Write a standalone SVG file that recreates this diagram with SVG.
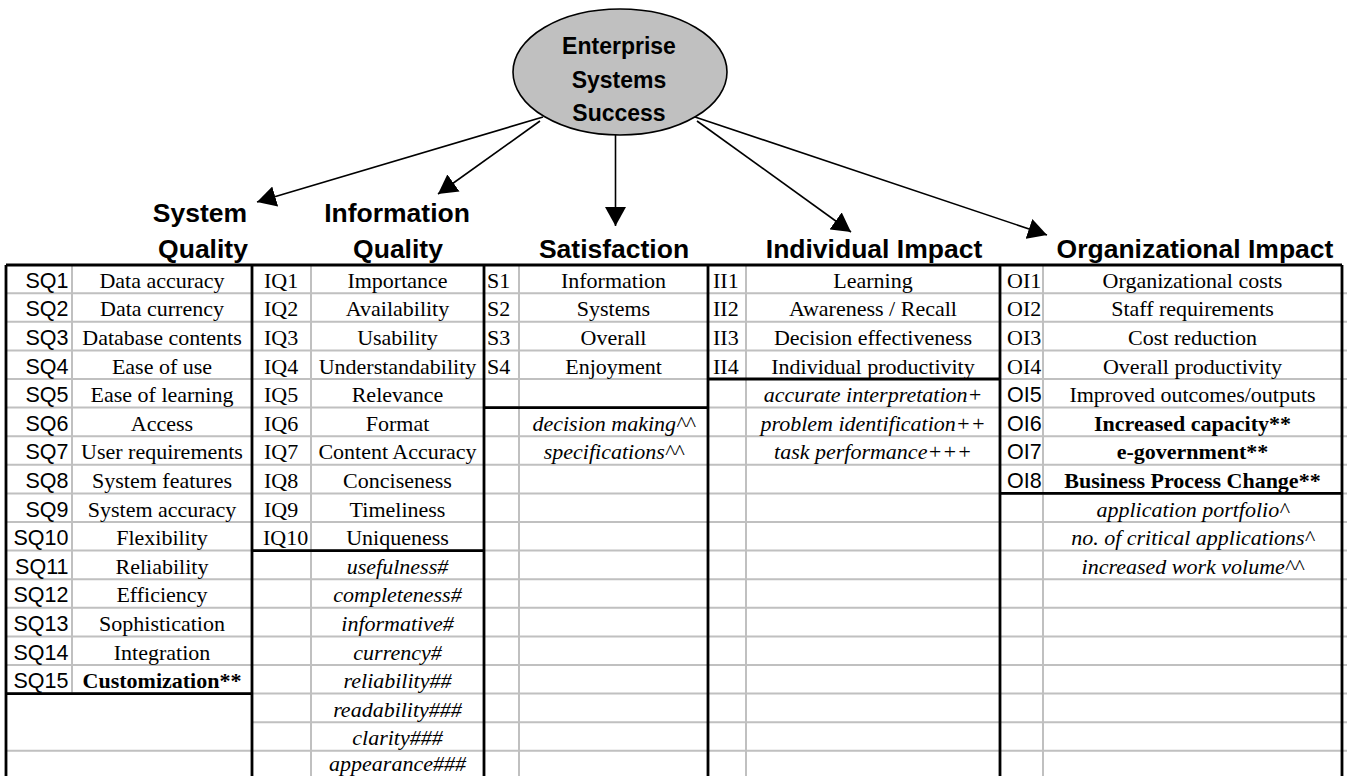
<svg xmlns="http://www.w3.org/2000/svg" width="1347" height="776" viewBox="0 0 1347 776">
<style>
.bg{fill:#ffffff}
.grid{stroke:#c0c0c0;stroke-width:2;fill:none}
.bord{stroke:#000000;stroke-width:2.8;fill:none}
.conn{stroke:#000000;stroke-width:1.6;fill:none}
.t{font-family:"Liberation Serif","Times New Roman",serif;font-size:22px;fill:#000}
.c{text-anchor:middle}
.a{font-family:"Liberation Sans",Arial,sans-serif;font-size:21.5px;fill:#000}
.r{text-anchor:end}
.i{font-style:italic}
.b{font-weight:bold}
.h{font-family:"Liberation Sans",Arial,sans-serif;font-size:26.5px;font-weight:bold;text-anchor:middle;fill:#000}
.e{font-family:"Liberation Sans",Arial,sans-serif;font-size:23px;font-weight:bold;text-anchor:middle;fill:#000}
</style>
<defs>
<marker id="ah" markerUnits="userSpaceOnUse" markerWidth="20" markerHeight="21" refX="19" refY="10.5" orient="auto">
<path d="M0,0 L19,10.5 L0,21 z" fill="#000"/>
</marker>
</defs>
<rect class="bg" x="0" y="0" width="1347" height="776"/>

<g id="connectors">
<line class="conn" x1="543" y1="117" x2="257" y2="202" marker-end="url(#ah)"/>
<line class="conn" x1="540" y1="121" x2="438" y2="194" marker-end="url(#ah)"/>
<line class="conn" x1="615.5" y1="135" x2="615.5" y2="226" marker-end="url(#ah)"/>
<line class="conn" x1="697" y1="121" x2="851" y2="232" marker-end="url(#ah)"/>
<line class="conn" x1="695" y1="117" x2="1047" y2="235" marker-end="url(#ah)"/>
</g>

<g id="node-ess">
<ellipse cx="620" cy="72" rx="107" ry="63" fill="#c0c0c0" stroke="#000" stroke-width="1.6"/>
<text class="e" x="619" y="54">Enterprise</text>
<text class="e" x="619" y="87.5">Systems</text>
<text class="e" x="619" y="121">Success</text>
</g>

<g id="node-sq-head">
<text class="h" x="200" y="222">System</text>
<text class="h" x="203" y="258">Quality</text>
</g>
<g id="node-iq-head">
<text class="h" x="397" y="222">Information</text>
<text class="h" x="398" y="258">Quality</text>
</g>
<g id="node-s-head"><text class="h" x="614" y="258">Satisfaction</text></g>
<g id="node-ii-head"><text class="h" x="874" y="258">Individual Impact</text></g>
<g id="node-oi-head"><text class="h" x="1195" y="258">Organizational Impact</text></g>

<g id="grid">
<path class="grid" d="M6,293.2H1347M6,321.8H1347M6,350.4H1347M6,379H1347M6,407.6H1347M6,436.2H1347M6,464.8H1347M6,493.4H1347M6,522H1347M6,550.6H1347M6,579.2H1347M6,607.8H1347M6,636.4H1347M6,665H1347M6,693.6H1347M252,722.2H1347M6,750.8H1347"/>
<path class="grid" d="M72,265V693.6M311,265V776M519,265V776M746,265V776M1043,265V776"/>
</g>

<g id="borders">
<path class="bord" d="M6,265H1342M6,265V776M252,265V776M484,265V776M708,265V776M1000,265V776M1342,265V776"/>
<path class="bord" d="M6,693.6H252M252,550.6H484M484,407.6H708M708,379H1000M1000,493.4H1342"/>
</g>

<g id="node-sq">
<text class="a r" x="68.5" y="287.7">SQ1</text>
<text class="a r" x="68.5" y="316.3">SQ2</text>
<text class="a r" x="68.5" y="344.9">SQ3</text>
<text class="a r" x="68.5" y="373.5">SQ4</text>
<text class="a r" x="68.5" y="402.1">SQ5</text>
<text class="a r" x="68.5" y="430.7">SQ6</text>
<text class="a r" x="68.5" y="459.3">SQ7</text>
<text class="a r" x="68.5" y="487.9">SQ8</text>
<text class="a r" x="68.5" y="516.5">SQ9</text>
<text class="a r" x="68.5" y="545.1">SQ10</text>
<text class="a r" x="68.5" y="573.7">SQ11</text>
<text class="a r" x="68.5" y="602.3">SQ12</text>
<text class="a r" x="68.5" y="630.9">SQ13</text>
<text class="a r" x="68.5" y="659.5">SQ14</text>
<text class="a r" x="68.5" y="688.1">SQ15</text>
<text class="t c" x="162" y="287.7">Data accuracy</text>
<text class="t c" x="162" y="316.3">Data currency</text>
<text class="t c" x="162" y="344.9">Database contents</text>
<text class="t c" x="162" y="373.5">Ease of use</text>
<text class="t c" x="162" y="402.1">Ease of learning</text>
<text class="t c" x="162" y="430.7">Access</text>
<text class="t c" x="162" y="459.3">User requirements</text>
<text class="t c" x="162" y="487.9">System features</text>
<text class="t c" x="162" y="516.5">System accuracy</text>
<text class="t c" x="162" y="545.1">Flexibility</text>
<text class="t c" x="162" y="573.7">Reliability</text>
<text class="t c" x="162" y="602.3">Efficiency</text>
<text class="t c" x="162" y="630.9">Sophistication</text>
<text class="t c" x="162" y="659.5">Integration</text>
<text class="t c b" x="162" y="688.1">Customization**</text>
</g>

<g id="node-iq">
<text class="t" x="264" y="287.7">IQ1</text>
<text class="t" x="264" y="316.3">IQ2</text>
<text class="t" x="264" y="344.9">IQ3</text>
<text class="t" x="264" y="373.5">IQ4</text>
<text class="t" x="264" y="402.1">IQ5</text>
<text class="t" x="264" y="430.7">IQ6</text>
<text class="t" x="264" y="459.3">IQ7</text>
<text class="t" x="264" y="487.9">IQ8</text>
<text class="t" x="264" y="516.5">IQ9</text>
<text class="t" x="263" y="545.1">IQ10</text>
<text class="t c" x="397.5" y="287.7">Importance</text>
<text class="t c" x="397.5" y="316.3">Availability</text>
<text class="t c" x="397.5" y="344.9">Usability</text>
<text class="t c" x="397.5" y="373.5">Understandability</text>
<text class="t c" x="397.5" y="402.1">Relevance</text>
<text class="t c" x="397.5" y="430.7">Format</text>
<text class="t c" x="397.5" y="459.3">Content Accuracy</text>
<text class="t c" x="397.5" y="487.9">Conciseness</text>
<text class="t c" x="397.5" y="516.5">Timeliness</text>
<text class="t c" x="397.5" y="545.1">Uniqueness</text>
<text class="t c i" x="397.5" y="573.7">usefulness#</text>
<text class="t c i" x="397.5" y="602.3">completeness#</text>
<text class="t c i" x="397.5" y="630.9">informative#</text>
<text class="t c i" x="397.5" y="659.5">currency#</text>
<text class="t c i" x="397.5" y="688.1">reliability##</text>
<text class="t c i" x="397.5" y="716.7">readability###</text>
<text class="t c i" x="397.5" y="745.3">clarity###</text>
<text class="t c i" x="397.5" y="771">appearance###</text>
</g>

<g id="node-s">
<text class="t" x="487" y="287.7">S1</text>
<text class="t" x="487" y="316.3">S2</text>
<text class="t" x="487" y="344.9">S3</text>
<text class="t" x="487" y="373.5">S4</text>
<text class="t c" x="613.5" y="287.7">Information</text>
<text class="t c" x="613.5" y="316.3">Systems</text>
<text class="t c" x="613.5" y="344.9">Overall</text>
<text class="t c" x="613.5" y="373.5">Enjoyment</text>
<text class="t c i" x="613.5" y="430.7">decision making^^</text>
<text class="t c i" x="613.5" y="459.3">specifications^^</text>
</g>

<g id="node-ii">
<text class="t" x="713" y="287.7">II1</text>
<text class="t" x="713" y="316.3">II2</text>
<text class="t" x="713" y="344.9">II3</text>
<text class="t" x="713" y="373.5">II4</text>
<text class="t c" x="873" y="287.7">Learning</text>
<text class="t c" x="873" y="316.3">Awareness / Recall</text>
<text class="t c" x="873" y="344.9">Decision effectiveness</text>
<text class="t c" x="873" y="373.5">Individual productivity</text>
<text class="t c i" x="873" y="402.1">accurate interpretation+</text>
<text class="t c i" x="873" y="430.7">problem identification++</text>
<text class="t c i" x="873" y="459.3">task performance+++</text>
</g>

<g id="node-oi">
<text class="t" x="1007" y="287.7">OI1</text>
<text class="t" x="1007" y="316.3">OI2</text>
<text class="t" x="1007" y="344.9">OI3</text>
<text class="t" x="1007" y="373.5">OI4</text>
<text class="a" x="1007" y="402.1">OI5</text>
<text class="a" x="1007" y="430.7">OI6</text>
<text class="a" x="1007" y="459.3">OI7</text>
<text class="a" x="1007" y="487.9">OI8</text>
<text class="t c" x="1192.5" y="287.7">Organizational costs</text>
<text class="t c" x="1192.5" y="316.3">Staff requirements</text>
<text class="t c" x="1192.5" y="344.9">Cost reduction</text>
<text class="t c" x="1192.5" y="373.5">Overall productivity</text>
<text class="t c" x="1192.5" y="402.1">Improved outcomes/outputs</text>
<text class="t c b" x="1192.5" y="430.7">Increased capacity**</text>
<text class="t c b" x="1192.5" y="459.3">e-government**</text>
<text class="t c b" x="1192.5" y="487.9">Business Process Change**</text>
<text class="t c i" x="1192.5" y="516.5">application portfolio^</text>
<text class="t c i" x="1192.5" y="545.1">no. of critical applications^</text>
<text class="t c i" x="1192.5" y="573.7">increased work volume^^</text>
</g>
</svg>
